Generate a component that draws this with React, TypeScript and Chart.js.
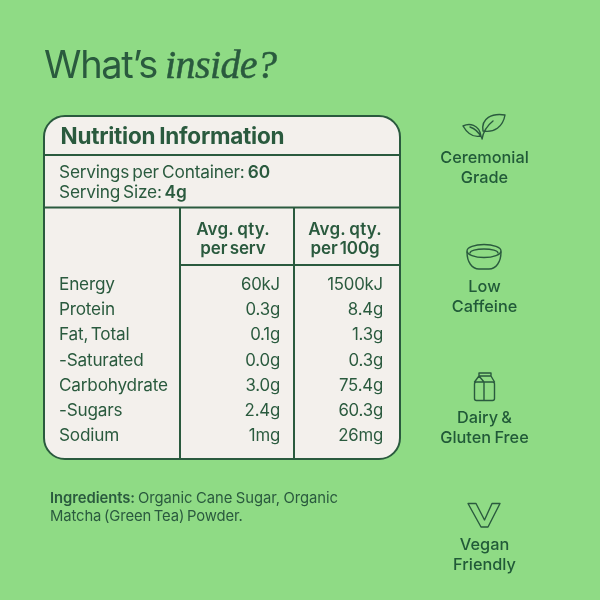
import { useEffect, useRef } from "react";
import Chart from "chart.js/auto";

const rowLabels = ["Energy", "Protein", "Fat, Total", "-Saturated", "Carbohydrate", "-Sugars", "Sodium"];
const perServing = ["60kJ", "0.3g", "0.1g", "0.0g", "3.0g", "2.4g", "1mg"];
const per100g = ["1500kJ", "8.4g", "1.3g", "0.3g", "75.4g", "60.3g", "26mg"];
const columnHeaders = [
  ["Avg. qty.", "per serv"],
  ["Avg. qty.", "per 100g"],
];
const badges = [
  ["Ceremonial", "Grade"],
  ["Low", "Caffeine"],
  ["Dairy &", "Gluten Free"],
  ["Vegan", "Friendly"],
];

const GREEN = "#8fdb85";
const PANEL = "#f3f0ec";
const DARK = "#2a5a3e";
const BADGE = "#215a38";
const FONT = "Inter, sans-serif";

const tablePlugin = {
  id: "nutritionTable",
  beforeDraw(chart: any) {
    const { ctx, scales } = chart;
    const X = (v: number) => scales.x.getPixelForValue(v);
    const Y = (v: number) => scales.y.getPixelForValue(v);

    const text = (s: string, x: number, y: number, font: string, align: CanvasTextAlign = "left", spacing = "0px", word = "0px") => {
      ctx.font = font;
      ctx.textAlign = align;
      ctx.letterSpacing = spacing;
      ctx.wordSpacing = word;
      ctx.fillText(s, X(x), Y(y));
      ctx.letterSpacing = "0px";
      ctx.wordSpacing = "0px";
    };
    // regular text followed by a bolder run on the same baseline
    const runs = (a: string, fontA: string, b: string, fontB: string, x: number, y: number, sp = "0px", word = "0px") => {
      ctx.font = fontA;
      ctx.textAlign = "left";
      ctx.letterSpacing = sp;
      ctx.wordSpacing = word;
      ctx.fillText(a, X(x), Y(y));
      const w = ctx.measureText(a).width;
      ctx.font = fontB;
      ctx.fillText(b, X(x) + w, Y(y));
      ctx.letterSpacing = "0px";
      ctx.wordSpacing = "0px";
    };
    const line = (x1: number, y1: number, x2: number, y2: number) => {
      ctx.beginPath();
      ctx.moveTo(X(x1), Y(y1));
      ctx.lineTo(X(x2), Y(y2));
      ctx.stroke();
    };

    ctx.save();
    ctx.fillStyle = GREEN;
    ctx.fillRect(0, 0, chart.width, chart.height);

    // title
    ctx.fillStyle = DARK;
    ctx.textBaseline = "alphabetic";
    text("What\u2019s", 44, 78, `400 38px ${FONT}`, "left", "-1.3px");
    ctx.font = `italic 400 40px "Liberation Serif", serif`;
    ctx.textAlign = "left";
    ctx.letterSpacing = "-0.6px";
    ctx.strokeStyle = DARK;
    ctx.lineWidth = 0.5;
    ctx.fillText("inside?", X(165), Y(78));
    ctx.strokeText("inside?", X(165), Y(78));
    ctx.letterSpacing = "0px";

    // table box
    ctx.beginPath();
    ctx.roundRect(X(44), Y(116), X(400) - X(44), Y(459) - Y(116), 21);
    ctx.fillStyle = PANEL;
    ctx.fill();
    ctx.strokeStyle = DARK;
    ctx.lineWidth = 2;
    ctx.stroke();
    line(44, 155, 400, 155);
    line(44, 207.5, 400, 207.5);
    line(180, 265, 400, 265);
    line(180, 207.5, 180, 459);
    line(294, 207.5, 294, 459);

    ctx.fillStyle = DARK;
    text("Nutrition Information", 60.5, 144, `700 22.5px ${FONT}`, "left", "-0.25px", "-1px");
    runs("Servings per Container: ", `400 17.3px ${FONT}`, "60", `600 17.3px ${FONT}`, 59, 178, "-0.2px", "-1.5px");
    runs("Serving Size: ", `400 17.3px ${FONT}`, "4g", `600 17.3px ${FONT}`, 59, 198, "-0.2px", "-1.8px");

    const headerX = [233, 345];
    columnHeaders.forEach((h, i) => {
      text(h[0], headerX[i], 235, `600 17px ${FONT}`, "center", "0.2px", "-1px");
      text(h[1], headerX[i], 254, `600 17px ${FONT}`, "center", "-0.1px", "-2px");
    });

    rowLabels.forEach((label, i) => {
      const y = 290 + i * 25.2;
      text(label, 59, y, `400 17.2px ${FONT}`, "left", "-0.2px", "-2px");
      text(perServing[i], 280, y, `400 16.8px ${FONT}`, "right", "-0.2px");
      text(per100g[i], 383, y, `400 16.8px ${FONT}`, "right", "-0.2px");
    });

    // ingredients
    ctx.fillStyle = DARK;
    runs("Ingredients: ", `600 14.8px ${FONT}`, "Organic Cane Sugar, Organic", `400 14.8px ${FONT}`, 50, 503, "-0.05px", "-0.6px");
    text("Matcha (Green Tea) Powder.", 50, 521, `400 14.8px ${FONT}`, "left", "-0.1px", "-1.4px");

    // right column
    ctx.fillStyle = BADGE;
    const badgeY = [163, 292, 423, 550];
    badges.forEach((b, i) => {
      text(b[0], 484.5, badgeY[i], `500 16.3px ${FONT}`, "center", "0px", "-1px");
      text(b[1], 484.5, badgeY[i] + 20, `500 16.3px ${FONT}`, "center", "0px", "-1px");
    });

    ctx.strokeStyle = DARK;
    ctx.lineWidth = 1.4;
    ctx.lineJoin = "round";
    ctx.lineCap = "round";

    // leaf icon
    ctx.beginPath();
    ctx.moveTo(482, 139);
    ctx.quadraticCurveTo(484, 128, 493, 121);
    ctx.stroke();
    ctx.beginPath();
    ctx.moveTo(505, 115);
    ctx.bezierCurveTo(492, 113, 481, 118, 483, 131);
    ctx.bezierCurveTo(494, 133, 503, 127, 505, 115);
    ctx.stroke();
    ctx.beginPath();
    ctx.moveTo(463, 126);
    ctx.bezierCurveTo(469, 123, 479, 124, 481, 136);
    ctx.bezierCurveTo(472, 138, 467, 133, 463, 126);
    ctx.moveTo(470, 127);
    ctx.quadraticCurveTo(477, 129, 482, 138);
    ctx.stroke();

    // bowl icon
    ctx.beginPath();
    ctx.ellipse(484, 251, 17, 6.5, 0, 0, Math.PI * 2);
    ctx.stroke();
    ctx.beginPath();
    ctx.ellipse(484, 253, 14, 4, 0, Math.PI, Math.PI * 2);
    ctx.stroke();
    ctx.beginPath();
    ctx.moveTo(467, 252);
    ctx.bezierCurveTo(467, 262, 472, 269, 479, 269);
    ctx.lineTo(489, 269);
    ctx.bezierCurveTo(496, 269, 501, 262, 501, 252);
    ctx.stroke();

    // carton icon
    ctx.beginPath();
    ctx.roundRect(474.5, 382, 20, 18.5, 2);
    ctx.moveTo(474.5, 382);
    ctx.lineTo(479, 376);
    ctx.lineTo(491, 376);
    ctx.lineTo(494.5, 382);
    ctx.moveTo(479, 376);
    ctx.lineTo(479, 373);
    ctx.lineTo(491, 373);
    ctx.lineTo(491, 376);
    ctx.moveTo(484, 382);
    ctx.lineTo(484, 400.5);
    ctx.moveTo(484, 382);
    ctx.lineTo(479, 376);
    ctx.stroke();

    // V icon
    ctx.beginPath();
    ctx.moveTo(468, 503.5);
    ctx.lineTo(476, 503.5);
    ctx.lineTo(484.5, 520);
    ctx.lineTo(492, 503.5);
    ctx.lineTo(500, 503.5);
    ctx.lineTo(488, 527);
    ctx.lineTo(481, 527);
    ctx.closePath();
    ctx.stroke();

    ctx.restore();
  },
};

const App = () => {
  const chartRef = useRef<HTMLCanvasElement>(null);

  useEffect(() => {
    if (!chartRef.current) return;
    const chart = new Chart(chartRef.current, {
      type: "scatter",
      data: { datasets: [] },
      options: {
        animation: false,
        responsive: false,
        layout: { padding: 0 },
        plugins: { legend: { display: false }, tooltip: { enabled: false } },
        scales: {
          x: { type: "linear", min: 0, max: 600, display: false },
          y: { type: "linear", min: 0, max: 600, reverse: true, display: false },
        },
      },
      plugins: [tablePlugin],
    });
    return () => chart.destroy();
  }, []);

  return (
    <div style={{ position: "fixed", left: 0, top: 0, width: 600, height: 600 }}>
      <canvas ref={chartRef} width={600} height={600} style={{ display: "block" }} />
    </div>
  );
};

export default App;
